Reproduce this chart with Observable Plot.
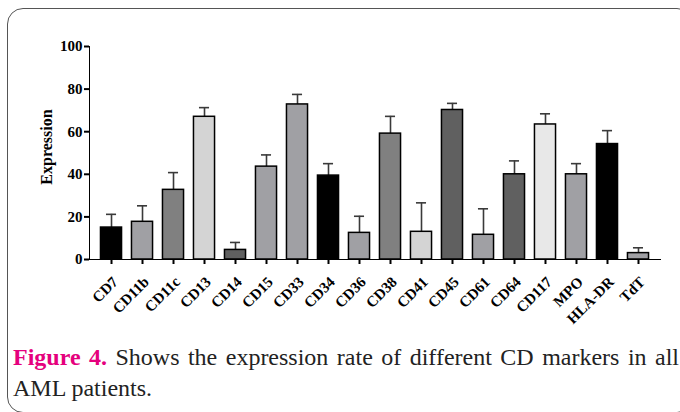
<!DOCTYPE html>
<html>
<head>
<meta charset="utf-8">
<script src="https://cdn.jsdelivr.net/npm/d3@7"></script>
<script src="https://cdn.jsdelivr.net/npm/@observablehq/plot@0.6"></script>
<style>
  html, body { margin: 0; padding: 0; background: #fff; width: 680px; height: 412px; overflow: hidden; position: relative; }
  #frame { position: absolute; left: 7px; top: 8px; width: 686px; height: 405px; border: 1.3px solid #555; border-radius: 16px; box-sizing: border-box; }
  #chart { position: absolute; left: 0; top: 0; }
  #ylabel { position: absolute; left: 47px; top: 147px; transform: translate(-50%, -50%) rotate(-90deg); font-family: "Liberation Serif", "Times New Roman", serif; font-weight: bold; font-size: 16px; white-space: nowrap; color: #000; }
  #caption { position: absolute; left: 13px; top: 342px; width: 666px; font-family: "Liberation Serif", "Times New Roman", serif; font-size: 24px; line-height: 31px; color: #222; }
  #caption .l1 { text-align: justify; text-align-last: justify; white-space: nowrap; }
  #caption b { color: #e5007d; }
  #chart svg g[aria-label*="axis"] { stroke-width: 2; }
</style>
</head>
<body>
<div id="frame"></div>
<div id="chart"></div>
<div id="ylabel">Expression</div>
<div id="caption"><div class="l1"><b>Figure 4.</b> Shows the expression rate of different CD markers in all</div><div>AML patients.</div></div>
<script>
const markers = ["CD7","CD11b","CD11c","CD13","CD14","CD15","CD33","CD34","CD36","CD38","CD41","CD45","CD61","CD64","CD117","MPO","HLA-DR","TdT"];
const expression = [15, 17.7, 32.7, 67, 4.5, 43.6, 72.8, 39.4, 12.5, 59.1, 13, 70.2, 11.6, 40, 63.4, 40, 54.2, 3];
const errorUpper = [21.2, 25.2, 40.8, 71.3, 8, 49.1, 77.5, 45, 20.3, 67.2, 26.6, 73.3, 23.8, 46.3, 68.4, 45, 60.5, 5.5];
const shades = ["#000000","#a0a0a4","#808080","#d4d4d4","#606060","#a0a0a4","#a0a0a4","#000000","#a0a0a4","#808080","#d4d4d4","#606060","#a0a0a4","#606060","#e8e8e8","#a0a0a4","#000000","#a0a0a4"];
const yTicks = [0, 20, 40, 60, 80, 100];

const data = markers.map((m, i) => ({marker: m, value: expression[i], upper: errorUpper[i]}));

const plot = Plot.plot({
  width: 680,
  height: 330,
  marginLeft: 89,
  marginRight: 20,
  marginTop: 46,
  marginBottom: 71,
  style: {fontFamily: "Liberation Serif, Times New Roman, serif", fontWeight: "bold", fontSize: "15px", color: "#000", background: "transparent"},
  x: {domain: markers, paddingInner: 0.32, paddingOuter: 0.37, round: false, tickSize: 5, line: true, label: null, tickFormat: () => ""},
  y: {domain: [0, 100], ticks: yTicks, tickSize: 5, line: true, label: null, tickFormat: d => d, tickPadding: 2},
  color: {domain: markers, range: shades},
  marks: [
    Plot.ruleX(data, {x: "marker", y1: "value", y2: "upper", stroke: "#3a3a3a", strokeWidth: 1.6}),
    Plot.tickY(data, {x: "marker", y: "upper", stroke: "#3a3a3a", strokeWidth: 1.6, insetLeft: 5.5, insetRight: 5.5}),
    Plot.barY(data, {x: "marker", y: "value", fill: "marker", stroke: "#000", strokeWidth: 1.5}),
    Plot.text(markers, {x: d => d, frameAnchor: "bottom", rotate: -45, textAnchor: "end", lineAnchor: "middle", dx: 4, dy: 20, fontSize: 15, fontWeight: "bold", fill: "#000"})
  ]
});
document.getElementById("chart").appendChild(plot);
</script>
</body>
</html>
